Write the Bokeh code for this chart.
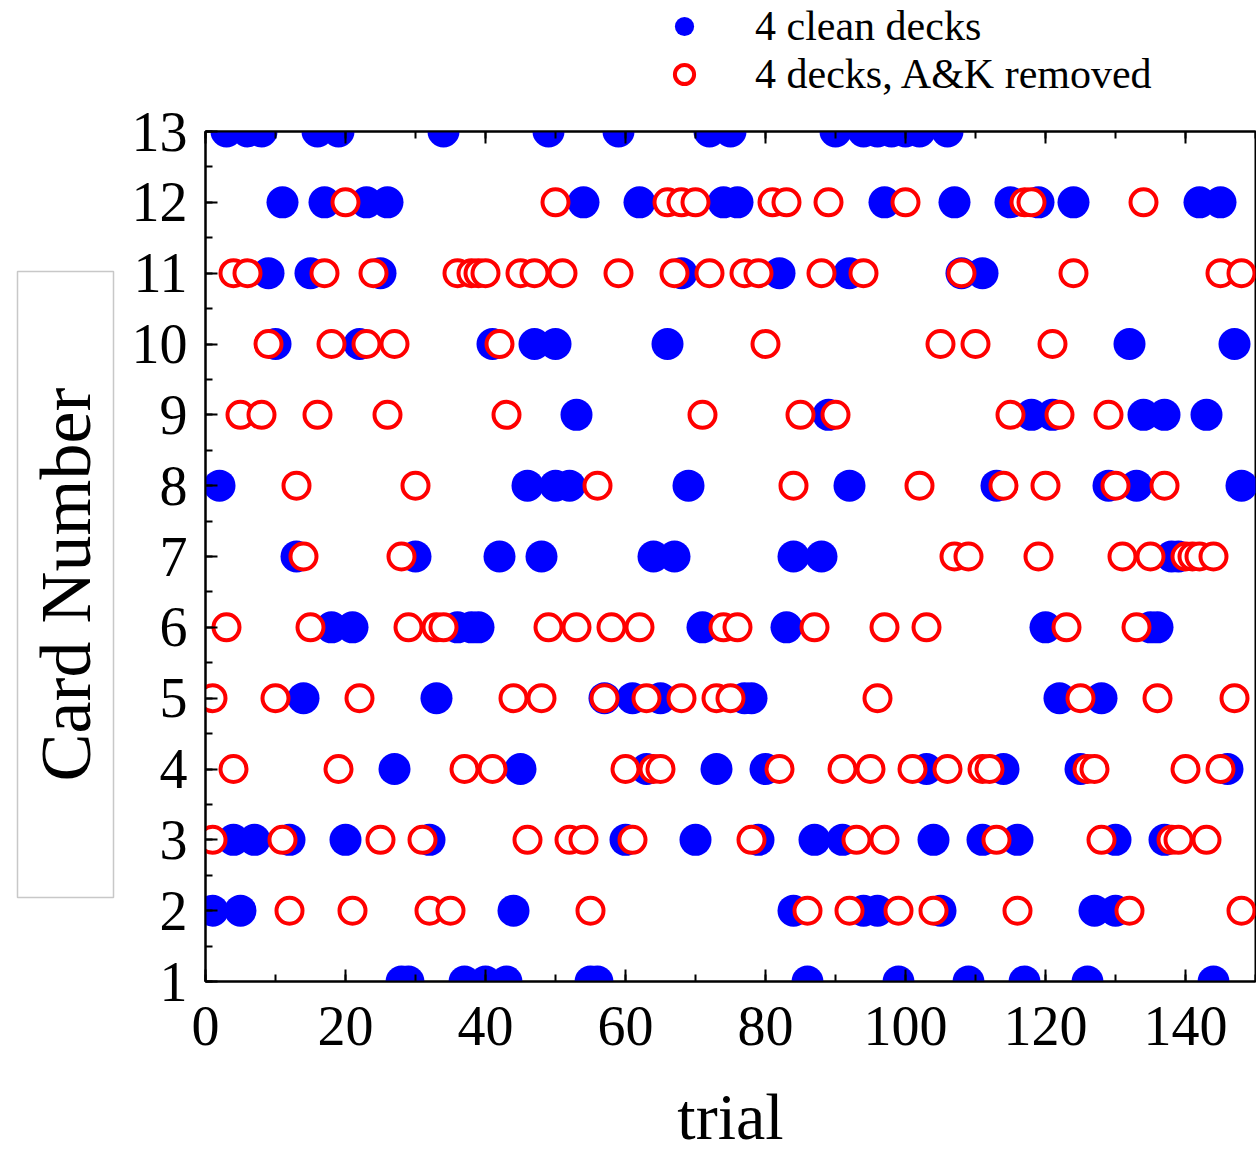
from bokeh.plotting import figure
from bokeh.layouts import column
from bokeh.models import (ColumnDataSource, Legend, LegendItem, LinearAxis,
                          SingleIntervalTicker, Range1d, Title,
                          CustomJSTickFormatter)
from bokeh.embed import file_html
from bokeh.resources import INLINE

# ---- data: trial numbers at which each card value was drawn ----
clean_13 = [3, 6, 8, 16, 19, 34, 49, 59, 72, 75, 90, 94, 96, 98, 100, 102, 106]
clean_12 = [11, 17, 23, 26, 54, 62, 74, 76, 97, 107, 115, 119, 124, 142, 145]
clean_11 = [9, 15, 25, 68, 82, 92, 108, 111]
clean_10 = [10, 22, 41, 47, 50, 66, 132, 147]
clean_9 = [53, 89, 118, 121, 134, 137, 143]
clean_8 = [2, 46, 50, 52, 69, 92, 113, 129, 133, 148]
clean_7 = [13, 30, 42, 48, 64, 67, 84, 88, 138, 139]
clean_6 = [18, 21, 36, 38, 39, 71, 83, 120, 135, 136]
clean_5 = [14, 33, 57, 61, 65, 77, 78, 122, 128]
clean_4 = [27, 45, 63, 73, 80, 103, 114, 125, 146]
clean_3 = [4, 7, 12, 20, 32, 60, 70, 79, 87, 91, 104, 111, 116, 130, 137]
clean_2 = [1, 5, 44, 84, 94, 96, 105, 127, 130]
clean_1 = [28, 29, 37, 40, 43, 55, 56, 86, 99, 109, 117, 126, 144]

removed_12 = [20, 50, 66, 68, 70, 81, 83, 89, 100, 117, 118, 134]
removed_11 = [4, 6, 17, 24, 36, 38, 39, 40, 45, 47, 51, 59, 67, 72, 77, 79, 88, 94, 108, 124, 145, 148]
removed_10 = [9, 18, 23, 27, 42, 80, 105, 110, 121]
removed_9 = [5, 8, 16, 26, 43, 71, 85, 90, 115, 122, 129]
removed_8 = [13, 30, 56, 84, 102, 114, 120, 130, 137]
removed_7 = [14, 28, 107, 109, 119, 131, 135, 140, 141, 142, 144]
removed_6 = [3, 15, 29, 33, 34, 49, 53, 58, 62, 74, 76, 87, 97, 103, 123, 133]
removed_5 = [1, 10, 22, 44, 48, 57, 63, 68, 73, 75, 96, 125, 136, 147]
removed_4 = [4, 19, 37, 41, 60, 64, 65, 82, 91, 95, 101, 106, 111, 112, 126, 127, 140, 145]
removed_3 = [1, 11, 25, 31, 46, 52, 54, 61, 78, 93, 97, 113, 128, 138, 139, 143]
removed_2 = [12, 21, 32, 35, 55, 86, 92, 99, 104, 116, 132, 148]

clean = {13: clean_13, 12: clean_12, 11: clean_11, 10: clean_10, 9: clean_9,
         8: clean_8, 7: clean_7, 6: clean_6, 5: clean_5, 4: clean_4,
         3: clean_3, 2: clean_2, 1: clean_1}
removed = {12: removed_12, 11: removed_11, 10: removed_10, 9: removed_9,
           8: removed_8, 7: removed_7, 6: removed_6, 5: removed_5,
           4: removed_4, 3: removed_3, 2: removed_2}

legend_labels = ["4 clean decks", "4 decks, A&K removed"]
y_label = "Card Number"
x_label = "trial"


def flatten(d):
    xs, ys = [], []
    for card, trials in d.items():
        for t in trials:
            xs.append(t)
            ys.append(card)
    return dict(x=xs, y=ys)


src_clean = ColumnDataSource(flatten(clean))
src_removed = ColumnDataSource(flatten(removed))

SERIF = "Liberation Serif"
BLUE_STYLE = dict(marker="circle", fill_color="#0000ff", line_color=None)
RED_STYLE = dict(marker="circle", fill_color="white", line_color="#ff0000", line_width=4)

# ---------------- legend strip above the plot ----------------
# (its ranges lie outside the data, so only the legend is visible)
leg = figure(width=1256, height=100, x_range=Range1d(-20, -10), y_range=Range1d(-20, -10),
             output_backend="svg", toolbar_location=None,
             x_axis_location=None, y_axis_location=None,
             min_border=0, outline_line_color=None)
leg.grid.visible = False
lr_clean = leg.scatter("x", "y", source=src_clean, size=32, **BLUE_STYLE)
lr_removed = leg.scatter("x", "y", source=src_removed, size=26, **RED_STYLE)
legend = Legend(items=[LegendItem(label=legend_labels[0], renderers=[lr_clean]),
                       LegendItem(label=legend_labels[1], renderers=[lr_removed])],
                location=(448, 2), orientation="vertical",
                glyph_width=62, glyph_height=48, label_height=48,
                label_standoff=40, spacing=0, padding=0, margin=0,
                border_line_color=None, background_fill_alpha=0,
                label_text_font=SERIF, label_text_font_size="42px",
                label_text_color="black")
leg.add_layout(legend)

# ---------------- main plot ----------------
p = figure(width=1256, height=1056, x_range=Range1d(0, 150), y_range=Range1d(1, 13),
           output_backend="svg", toolbar_location=None,
           min_border_left=205, min_border_right=1, min_border_top=31,
           min_border_bottom=175)

p.grid.visible = False
p.outline_line_color = "black"
p.outline_line_width = 2
p.background_fill_color = "white"
p.border_fill_color = "white"

p.scatter("x", "y", source=src_clean, size=32, **BLUE_STYLE)
p.scatter("x", "y", source=src_removed, size=26, **RED_STYLE)

# bottom axis
xa = p.xaxis[0]
xa.ticker = SingleIntervalTicker(interval=20, num_minor_ticks=2)
xa.major_tick_in = 12
xa.major_tick_out = 0
xa.minor_tick_in = 7
xa.minor_tick_out = 0
xa.axis_line_color = "black"
xa.axis_line_width = 2
xa.major_tick_line_width = 2
xa.minor_tick_line_width = 2
xa.major_label_text_font = SERIF
xa.major_label_text_font_size = "56px"
xa.major_label_text_color = "black"
xa.major_label_standoff = 25
xa.axis_label = x_label
xa.axis_label_text_font = SERIF
xa.axis_label_text_font_size = "66px"
xa.axis_label_text_font_style = "normal"
xa.axis_label_text_color = "black"
xa.axis_label_standoff = 32

# left axis
ya = p.yaxis[0]
ya.ticker = SingleIntervalTicker(interval=1, num_minor_ticks=2)
ya.major_tick_in = 12
ya.major_tick_out = 0
ya.minor_tick_in = 7
ya.minor_tick_out = 0
ya.axis_line_color = "black"
ya.axis_line_width = 2
ya.major_tick_line_width = 2
ya.minor_tick_line_width = 2
ya.major_label_text_font = SERIF
ya.major_label_text_font_size = "56px"
ya.major_label_text_color = "black"
ya.major_label_standoff = 18

# y label in a thin box (no-break spaces lengthen the box along the text)
pad = "\u00a0" * 6
ytitle = Title(text=pad + y_label + pad, align="left", offset=84, text_font=SERIF,
               text_font_size="72px", text_font_style="normal", text_color="black",
               border_line_color="#c8c8c8", border_line_width=1.5,
               padding=8, standoff=30)
p.add_layout(ytitle, "left")

# top axis (ticks only)
top = LinearAxis(ticker=SingleIntervalTicker(interval=20, num_minor_ticks=2),
                 major_tick_in=12, major_tick_out=0, minor_tick_in=7, minor_tick_out=0,
                 major_tick_line_width=2, minor_tick_line_width=2,
                 axis_line_color="black", axis_line_width=2,
                 formatter=CustomJSTickFormatter(code="return ''"),
                 major_label_text_font_size="2px", major_label_standoff=0)
p.add_layout(top, "above")

open("out.html", "w").write(file_html(column(leg, p, spacing=0), INLINE))
